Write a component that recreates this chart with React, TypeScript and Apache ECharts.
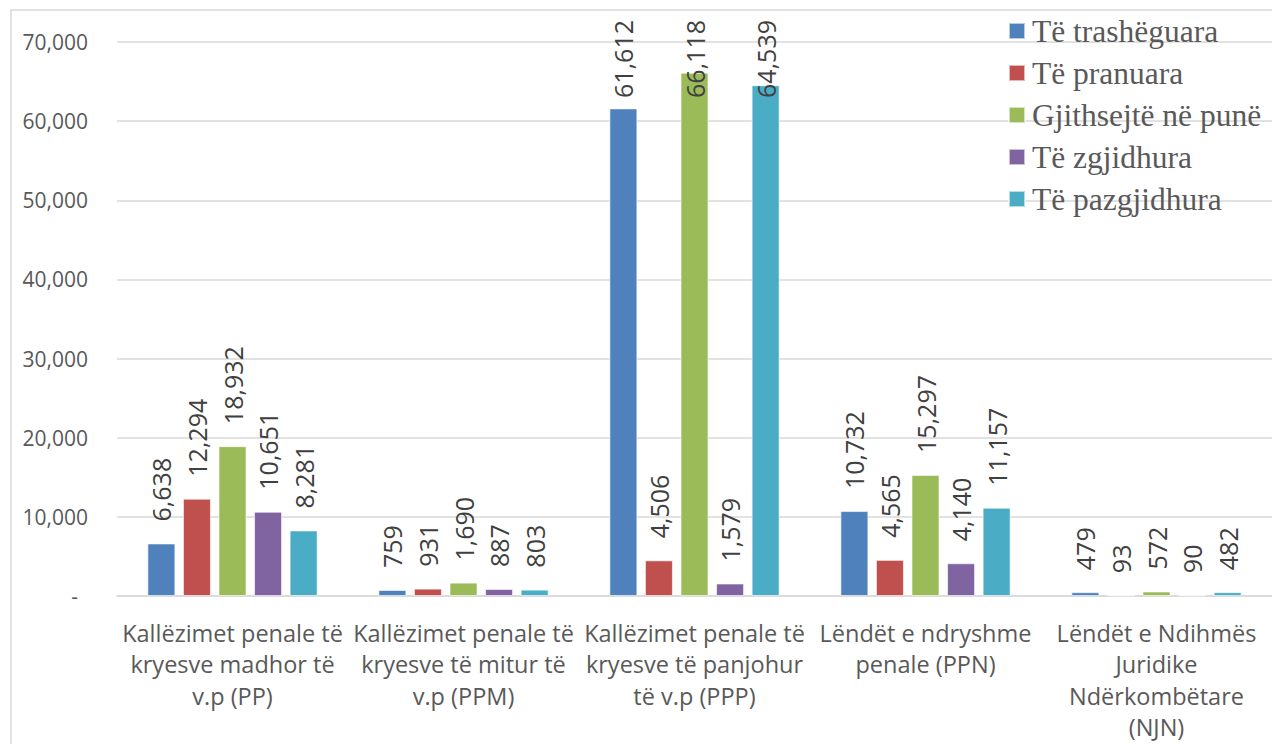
import React, { useEffect, useRef } from "react";
import * as echarts from "echarts";

const categories = [
  "Kallëzimet penale të\nkryesve madhor të\nv.p (PP)",
  "Kallëzimet penale të\nkryesve të mitur të\nv.p (PPM)",
  "Kallëzimet penale të\nkryesve të panjohur\ntë v.p (PPP)",
  "Lëndët e ndryshme\npenale (PPN)",
  "Lëndët e Ndihmës\nJuridike\nNdërkombëtare\n(NJN)",
];

const seriesNames = [
  "Të trashëguara",
  "Të pranuara",
  "Gjithsejtë në punë",
  "Të zgjidhura",
  "Të pazgjidhura",
];

const trashëguara = [6638, 759, 61612, 10732, 479];
const pranuara = [12294, 931, 4506, 4565, 93];
const gjithsejtë = [18932, 1690, 66118, 15297, 572];
const zgjidhura = [10651, 887, 1579, 4140, 90];
const pazgjidhura = [8281, 803, 64539, 11157, 482];

const seriesValues = [trashëguara, pranuara, gjithsejtë, zgjidhura, pazgjidhura];
const colors = ["#4F81BD", "#C0504D", "#9BBB59", "#8064A2", "#4BACC6"];

const yTicks = { min: 0, max: 70000, interval: 10000 };

const fmt = (v: number) => v.toLocaleString("en-US");

export default function App() {
  const ref = useRef<HTMLDivElement>(null);
  useEffect(() => {
    if (!ref.current) return;
    const chart = echarts.init(ref.current, null, { renderer: "svg" });
    const font = "Open Sans";
    const serif = "Liberation Serif";
    chart.setOption({
      animation: false,
      backgroundColor: "#ffffff",
      color: colors,
      graphic: [
        {
          type: "rect",
          z: -10,
          shape: { x: 11, y: 10, width: 1400, height: 900 },
          style: { fill: "none", stroke: "#D9D9D9", lineWidth: 1.5 },
        },
      ],
      legend: {
        orient: "vertical",
        left: 1003,
        top: 10,
        itemWidth: 16,
        itemHeight: 16,
        itemGap: 10,
        icon: "rect",
        data: seriesNames,
        formatter: (name: string) => "{t|" + name + "}",
        textStyle: {
          fontFamily: serif,
          fontSize: 31.5,
          color: "#595959",
          rich: {
            t: {
              fontFamily: serif,
              fontSize: 31.5,
              lineHeight: 30,
              color: "#595959",
              padding: [0, 0, 0, 2],
            },
          },
        },
      },
      grid: { left: 117, top: 42, width: 1156, bottom: 148, containLabel: false },
      xAxis: {
        type: "category",
        data: categories,
        axisLine: { show: true, lineStyle: { color: "#D9D9D9", width: 1.5 } },
        axisTick: { show: false },
        axisLabel: {
          interval: 0,
          margin: 21,
          fontSize: 23.5,
          lineHeight: 31.5,
          color: "#595959",
          fontFamily: font,
          align: "center",
        },
      },
      yAxis: {
        type: "value",
        min: yTicks.min,
        max: yTicks.max,
        interval: yTicks.interval,
        axisLine: { show: false },
        axisTick: { show: false },
        splitLine: { lineStyle: { color: "#D9D9D9", width: 1.5 } },
        axisLabel: {
          margin: 29,
          fontSize: 21,
          color: "#595959",
          fontFamily: font,
          formatter: (v: number) => (v === 0 ? "{z|-}" : fmt(v)),
          rich: { z: { fontSize: 21, fontFamily: font, color: "#595959", padding: [0, 10, 0, 0] } },
        },
      },
      labelLayout: (params: any) => {
        const r = params.labelRect;
        if (r && r.y < 20) {
          return { y: 20 + r.height };
        }
        return {};
      },
      series: seriesValues.map((vals, i) => ({
        name: seriesNames[i],
        type: "bar",
        data: vals,
        barWidth: 28,
        barGap: "27%",
        itemStyle: { color: colors[i], borderColor: "rgba(255,255,255,0.6)", borderWidth: 1 },
        label: {
          show: true,
          position: "top",
          distance: 22,
          rotate: 90,
          align: "left",
          verticalAlign: "middle",
          fontSize: 25,
          color: "#404040",
          fontFamily: font,
          formatter: (p: any) => fmt(p.value),
        },
      })),
    });
    return () => chart.dispose();
  }, []);
  return (
    <div
      ref={ref}
      style={{ position: "fixed", left: 0, top: 0, width: 1272, height: 744, background: "#fff" }}
    />
  );
}
